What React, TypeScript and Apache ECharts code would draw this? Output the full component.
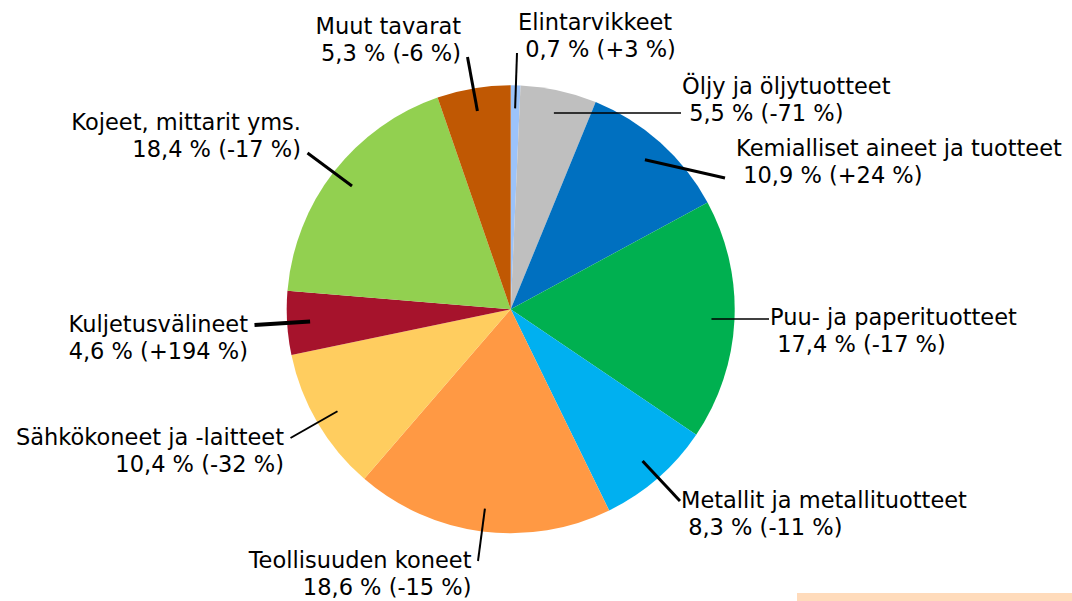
import React, { useEffect, useRef } from "react";
import * as echarts from "echarts";

// ---- data ----
const categories = [
  "Elintarvikkeet",
  "Öljy ja öljytuotteet",
  "Kemialliset aineet ja tuotteet",
  "Puu- ja paperituotteet",
  "Metallit ja metallituotteet",
  "Teollisuuden koneet",
  "Sähkökoneet ja -laitteet",
  "Kuljetusvälineet",
  "Kojeet, mittarit yms.",
  "Muut tavarat",
];
const shares = [0.7, 5.5, 10.9, 17.4, 8.3, 18.6, 10.4, 4.6, 18.4, 5.3];
const changes = [3, -71, 24, -17, -11, -15, -32, 194, -17, -6];

// ---- styling / layout (not data) ----
const colors = [
  "#9CC3FA",
  "#BFBFBF",
  "#0070C0",
  "#00B050",
  "#00B0F0",
  "#FF9944",
  "#FFCD5F",
  "#A6132C",
  "#92D050",
  "#C05803",
];
const leaderWidths = [2, 1.5, 3, 1.5, 3, 2, 2, 4, 3, 3];
// label box anchor: [x, top, align]
const labelBoxes: [number, number, "left" | "right"][] = [
  [518, 9, "left"],
  [682, 73, "left"],
  [736, 135, "left"],
  [770, 304, "left"],
  [681, 487, "left"],
  [471.5, 547, "right"],
  [284, 424, "right"],
  [248, 311, "right"],
  [301, 109, "right"],
  [461, 13, "right"],
];
// leader end attach: "auto" clamps to label, "low" forces lower attach with extra gap
const leaderAttach = ["auto", "auto", "low", "auto", "auto", "auto", "auto", "auto", "auto", "auto"];

const CX = 510.7;
const CY = 309.3;
const R = 224;
const LEADER_R = 201;
const FONT = "DejaVu Sans";

function fmtNum(v: number) {
  return v.toFixed(1).replace(".", ",");
}
function fmtChange(v: number) {
  return (v > 0 ? "+" : "") + String(v);
}

export default function App() {
  const ref = useRef<HTMLDivElement>(null);
  useEffect(() => {
    if (!ref.current) return;
    const chart = echarts.init(ref.current, undefined, { renderer: "svg" });
    const visibleData = categories.map((name, i) => ({
      name,
      value: shares[i],
      itemStyle: { color: colors[i] },
    }));
    const labelData = categories.map((name, i) => ({
      name,
      value: shares[i],
      itemStyle: { color: "rgba(0,0,0,0)" },
      labelLine: { lineStyle: { width: leaderWidths[i], color: "#000" } },
    }));
    chart.setOption({
      animation: false,
      backgroundColor: "#fff",
      graphic: [
        {
          type: "rect",
          shape: { x: 797, y: 593, width: 275, height: 8 },
          style: { fill: "#FFDBBB" },
          silent: true,
        },
      ],
      series: [
        {
          type: "pie",
          z: 2,
          center: [CX, CY],
          radius: R,
          startAngle: 90,
          clockwise: true,
          silent: true,
          itemStyle: { borderWidth: 0 },
          label: { show: false },
          labelLine: { show: false },
          emphasis: { disabled: true },
          data: visibleData,
        },
        {
          type: "pie",
          z: 3,
          center: [CX, CY],
          radius: R,
          startAngle: 90,
          clockwise: true,
          avoidLabelOverlap: false,
          minShowLabelAngle: 0,
          silent: true,
          itemStyle: { borderWidth: 0 },
          label: {
            show: true,
            position: "outside",
            fontFamily: FONT,
            fontSize: 22.5,
            lineHeight: 26.5,
            color: "#000",
            formatter: (p: any) => {
              const i = p.dataIndex;
              return `${categories[i]}\n ${fmtNum(shares[i])} % (${fmtChange(changes[i])} %)`;
            },
          },
          labelLine: { show: true, length: 10, length2: 10 },
          labelLayout: (params: any) => {
            const i = params.dataIndex;
            const [x, top, align] = labelBoxes[i];
            const p0 = params.labelLinePoints ? params.labelLinePoints[0] : [CX, CY];
            const k = LEADER_R / R;
            const sx = CX + (p0[0] - CX) * k;
            const sy = CY + (p0[1] - CY) * k;
            let ex = align === "left" ? x - 1 : x + 6.5;
            let ey = Math.min(Math.max(sy, top + 14), top + 44);
            if (leaderAttach[i] === "low") {
              ey = top + 43;
              ex = align === "left" ? x - 11 : x + 16;
            }
            return {
              x,
              y: top,
              align,
              verticalAlign: "top",
              labelLinePoints: [
                [sx, sy],
                [ex, ey],
                [ex, ey],
              ],
            };
          },
          emphasis: { disabled: true },
          data: labelData,
        },
      ],
    });
    return () => chart.dispose();
  }, []);
  return (
    <div
      ref={ref}
      style={{ position: "fixed", left: 0, top: 0, width: 1072, height: 601 }}
    />
  );
}
